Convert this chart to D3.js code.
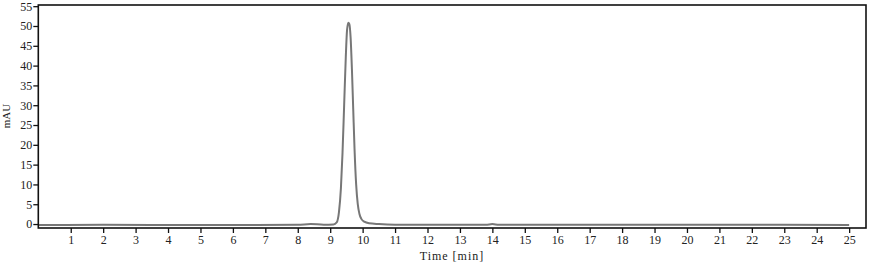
<!DOCTYPE html>
<html>
<head>
<meta charset="utf-8">
<script src="https://cdn.jsdelivr.net/npm/d3@7"></script>
<style>
  body { margin: 0; background: #fff; }
  svg text { font-family: "Liberation Serif", "Times New Roman", serif; fill: #222; }
  .axis text { font-size: 12px; }
  .axis path { display: none; }
  .axis line { stroke: #111; stroke-width: 1.3; }
</style>
</head>
<body>
<div class="chart"></div>
<script>
// chromatogram trace (time in min, signal in mAU)
const times = [0, 2, 5, 8, 8.4, 8.8, 9.1, 9.2, 9.27, 9.33, 9.38, 9.43, 9.48, 9.52, 9.56, 9.59,
  9.63, 9.67, 9.71, 9.75, 9.8, 9.85, 9.9, 9.96, 10.05, 10.2, 10.5, 11, 13.8, 14.0, 14.2, 18, 22, 25];
const signal = [-0.25, -0.2, -0.25, -0.2, 0.0, -0.15, -0.1, 0.4, 3, 9, 18, 30, 42, 49, 50.8, 50.5,
  47, 39, 29, 19, 10, 5, 2.6, 1.3, 0.6, 0.2, 0.0, -0.15, -0.2, 0.0, -0.2, -0.2, -0.15, -0.25];
const xTicks = d3.range(1, 26);
const yTicks = d3.range(0, 56, 5);

const width = 874, height = 263;
const svg = d3.select('.chart').append('svg')
  .attr('width', width)
  .attr('height', height);

const x = d3.scaleLinear().domain([0, 25.52]).range([38.3, 866]);
const y = d3.scaleLinear().domain([-1.0, 55.3]).range([228, 5]);

const pts = times.map((t, i) => [t, signal[i]]);

svg.append('path')
  .datum(pts)
  .attr('fill', 'none')
  .attr('stroke', '#777')
  .attr('stroke-width', 2)
  .attr('stroke-linejoin', 'round')
  .attr('d', d3.line().x(d => x(d[0])).y(d => y(d[1])).curve(d3.curveMonotoneX));

// frame
svg.append('rect')
  .attr('x', x.range()[0]).attr('y', y.range()[1])
  .attr('width', x.range()[1] - x.range()[0])
  .attr('height', y.range()[0] - y.range()[1])
  .attr('fill', 'none')
  .attr('stroke', '#111')
  .attr('stroke-width', 1.6);

svg.append('g')
  .attr('class', 'axis')
  .attr('transform', `translate(0, ${y.range()[0]})`)
  .call(d3.axisBottom(x).tickValues(xTicks).tickSize(5).tickPadding(2).tickFormat(d3.format('d')))
  .attr('font-family', null);

svg.append('g')
  .attr('class', 'axis')
  .attr('transform', `translate(${x.range()[0]}, 0)`)
  .call(d3.axisLeft(y).tickValues(yTicks).tickSize(5).tickPadding(1).tickFormat(d3.format('d')))
  .attr('font-family', null);

svg.append('text')
  .attr('x', 452).attr('y', 260)
  .attr('text-anchor', 'middle')
  .style('font-size', '12px')
  .style('letter-spacing', '1px')
  .text('Time [min]');

svg.append('text')
  .attr('transform', 'translate(10, 116) rotate(-90)')
  .attr('text-anchor', 'middle')
  .style('font-size', '11px')
  .text('mAU');
</script>
</body>
</html>
